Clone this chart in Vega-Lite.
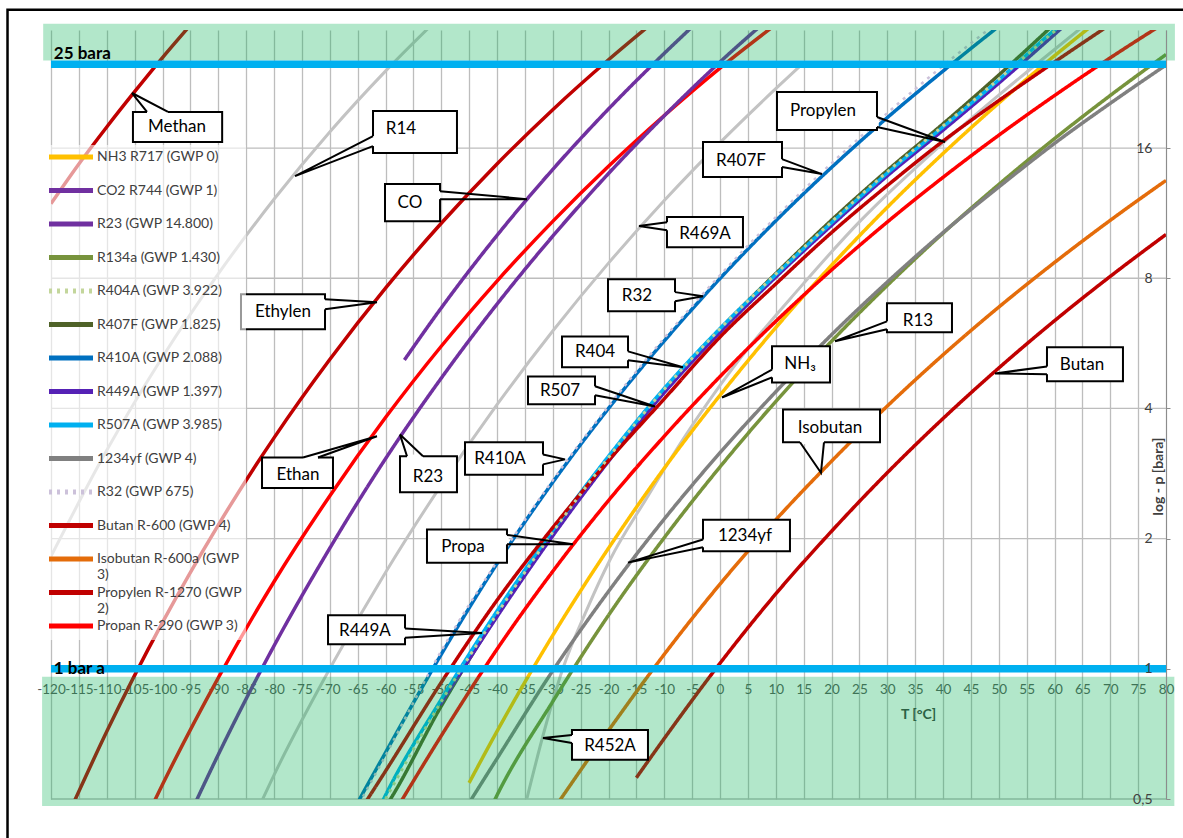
{
"$schema": "https://vega.github.io/schema/vega-lite/v6.json",
"width": 1115, "height": 769,
"autosize": {"type": "none"},
"padding": {"left": 51, "top": 30, "right": 17, "bottom": 39},
"background": "white",
"config": {"view": {"stroke": null}, "font": "Lato"},
"datasets": {
"hgrid": [{"T":-120,"T2":80,"p":0.5},{"T":-120,"T2":80,"p":1},{"T":-120,"T2":80,"p":2},{"T":-120,"T2":80,"p":4},{"T":-120,"T2":80,"p":8},{"T":-120,"T2":80,"p":16}],
"bars": [{"T":-120,"T2":80,"p":25},{"T":-120,"T2":80,"p":1}],
"bands": [{"T":-121.4,"T2":81.6,"p":25.5,"p2":31},{"T":-121.6,"T2":81.5,"p":0.482,"p2":0.958}],
"frame": [{"T":-127.8,"T2":95,"p":33.4,"p2":0.2}],
"barlabels": [{"T":-119.5,"p":26.4,"label":"25 bara"},{"T":-119.5,"p":1.0,"label":"1 bar a"}],
"curves": [
{"s":"Methan","T":-120,"p":11.9},{"s":"Methan","T":-115,"p":14.7},{"s":"Methan","T":-110,"p":17.9},{"s":"Methan","T":-105,"p":21.6},{"s":"Methan","T":-100,"p":25.9},{"s":"Methan","T":-95,"p":30.8},{"s":"Methan","T":-93,"p":33},
{"s":"Ethylen","T":-116,"p":0.488},{"s":"Ethylen","T":-110,"p":0.716},{"s":"Ethylen","T":-100,"p":1.28},{"s":"Ethylen","T":-90,"p":2.15},{"s":"Ethylen","T":-80,"p":3.42},{"s":"Ethylen","T":-70,"p":5.19},{"s":"Ethylen","T":-60,"p":7.59},{"s":"Ethylen","T":-50,"p":10.72},{"s":"Ethylen","T":-40,"p":14.7},{"s":"Ethylen","T":-30,"p":19.63},{"s":"Ethylen","T":-20,"p":25.6},{"s":"Ethylen","T":-10,"p":32.8},
{"s":"Ethan","T":-102,"p":0.478},{"s":"Ethan","T":-100,"p":0.54},{"s":"Ethan","T":-90,"p":0.953},{"s":"Ethan","T":-80,"p":1.59},{"s":"Ethan","T":-70,"p":2.51},{"s":"Ethan","T":-60,"p":3.81},{"s":"Ethan","T":-50,"p":5.57},{"s":"Ethan","T":-40,"p":7.88},{"s":"Ethan","T":-30,"p":10.83},{"s":"Ethan","T":-20,"p":14.52},{"s":"Ethan","T":-10,"p":19.03},{"s":"Ethan","T":0,"p":24.5},{"s":"Ethan","T":10,"p":30.9},
{"s":"R14","T":-120,"p":1.82},{"s":"R14","T":-110,"p":3.2},{"s":"R14","T":-100,"p":5.26},{"s":"R14","T":-90,"p":8.19},{"s":"R14","T":-80,"p":12.18},{"s":"R14","T":-70,"p":17.43},{"s":"R14","T":-60,"p":24.1},{"s":"R14","T":-50,"p":32.4},
{"s":"R469A","T":-84,"p":0.44},{"s":"R469A","T":-80,"p":0.568},{"s":"R469A","T":-70,"p":1.0},{"s":"R469A","T":-60,"p":1.67},{"s":"R469A","T":-50,"p":2.66},{"s":"R469A","T":-40,"p":4.08},{"s":"R469A","T":-30,"p":6.04},{"s":"R469A","T":-20,"p":8.67},{"s":"R469A","T":-10,"p":12.1},{"s":"R469A","T":0,"p":16.47},{"s":"R469A","T":10,"p":21.95},{"s":"R469A","T":15,"p":25.2},
{"s":"R452A","T":-35,"p":0.48},{"s":"R452A","T":-31.5,"p":0.72},{"s":"R452A","T":-28.2,"p":1.0},{"s":"R452A","T":-24,"p":1.36},{"s":"R452A","T":-19.7,"p":1.79},{"s":"R452A","T":-13,"p":2.5},{"s":"R452A","T":-6.6,"p":3.4},{"s":"R452A","T":3,"p":5.1},{"s":"R452A","T":14.3,"p":7.6},{"s":"R452A","T":25,"p":10.8},{"s":"R452A","T":39,"p":16.0},{"s":"R452A","T":50,"p":21.2},{"s":"R452A","T":57.4,"p":25.4},{"s":"R452A","T":65,"p":30.5},
{"s":"NH3 R717 (GWP 0)","T":-45,"p":0.545},{"s":"NH3 R717 (GWP 0)","T":-40,"p":0.717},{"s":"NH3 R717 (GWP 0)","T":-30,"p":1.195},{"s":"NH3 R717 (GWP 0)","T":-20,"p":1.9},{"s":"NH3 R717 (GWP 0)","T":-10,"p":2.91},{"s":"NH3 R717 (GWP 0)","T":0,"p":4.29},{"s":"NH3 R717 (GWP 0)","T":10,"p":6.15},{"s":"NH3 R717 (GWP 0)","T":20,"p":8.57},{"s":"NH3 R717 (GWP 0)","T":30,"p":11.67},{"s":"NH3 R717 (GWP 0)","T":40,"p":15.54},{"s":"NH3 R717 (GWP 0)","T":50,"p":20.33},{"s":"NH3 R717 (GWP 0)","T":60,"p":26.15},{"s":"NH3 R717 (GWP 0)","T":66,"p":30.2},
{"s":"CO2 R744 (GWP 1)","T":-56.6,"p":5.18},{"s":"CO2 R744 (GWP 1)","T":-50,"p":6.83},{"s":"CO2 R744 (GWP 1)","T":-40,"p":10.05},{"s":"CO2 R744 (GWP 1)","T":-30,"p":14.28},{"s":"CO2 R744 (GWP 1)","T":-20,"p":19.7},{"s":"CO2 R744 (GWP 1)","T":-10,"p":26.49},{"s":"CO2 R744 (GWP 1)","T":-5,"p":30.5},
{"s":"R23 (GWP 14.800)","T":-95,"p":0.463},{"s":"R23 (GWP 14.800)","T":-90,"p":0.633},{"s":"R23 (GWP 14.800)","T":-80,"p":1.13},{"s":"R23 (GWP 14.800)","T":-70,"p":1.9},{"s":"R23 (GWP 14.800)","T":-60,"p":3.06},{"s":"R23 (GWP 14.800)","T":-50,"p":4.7},{"s":"R23 (GWP 14.800)","T":-40,"p":6.97},{"s":"R23 (GWP 14.800)","T":-30,"p":10.01},{"s":"R23 (GWP 14.800)","T":-20,"p":13.97},{"s":"R23 (GWP 14.800)","T":-10,"p":19.0},{"s":"R23 (GWP 14.800)","T":0,"p":25.3},{"s":"R23 (GWP 14.800)","T":10,"p":32.9},
{"s":"R134a (GWP 1.430)","T":-41,"p":0.48},{"s":"R134a (GWP 1.430)","T":-40,"p":0.51},{"s":"R134a (GWP 1.430)","T":-30,"p":0.84},{"s":"R134a (GWP 1.430)","T":-20,"p":1.33},{"s":"R134a (GWP 1.430)","T":-10,"p":2.01},{"s":"R134a (GWP 1.430)","T":0,"p":2.93},{"s":"R134a (GWP 1.430)","T":10,"p":4.15},{"s":"R134a (GWP 1.430)","T":20,"p":5.72},{"s":"R134a (GWP 1.430)","T":30,"p":7.7},{"s":"R134a (GWP 1.430)","T":40,"p":10.17},{"s":"R134a (GWP 1.430)","T":50,"p":13.18},{"s":"R134a (GWP 1.430)","T":60,"p":16.82},{"s":"R134a (GWP 1.430)","T":70,"p":21.17},{"s":"R134a (GWP 1.430)","T":80,"p":26.33},
{"s":"R404A (GWP 3.922)","T":-60,"p":0.5},{"s":"R404A (GWP 3.922)","T":-50,"p":0.84},{"s":"R404A (GWP 3.922)","T":-40,"p":1.34},{"s":"R404A (GWP 3.922)","T":-30,"p":2.07},{"s":"R404A (GWP 3.922)","T":-20,"p":3.08},{"s":"R404A (GWP 3.922)","T":-10,"p":4.43},{"s":"R404A (GWP 3.922)","T":0,"p":6.11},{"s":"R404A (GWP 3.922)","T":10,"p":8.18},{"s":"R404A (GWP 3.922)","T":20,"p":10.8},{"s":"R404A (GWP 3.922)","T":30,"p":14.1},{"s":"R404A (GWP 3.922)","T":40,"p":18.0},{"s":"R404A (GWP 3.922)","T":50,"p":23.1},{"s":"R404A (GWP 3.922)","T":60,"p":29.8},{"s":"R404A (GWP 3.922)","T":62,"p":31.3},
{"s":"R407F (GWP 1.825)","T":-61,"p":0.46},{"s":"R407F (GWP 1.825)","T":-60,"p":0.48},{"s":"R407F (GWP 1.825)","T":-50,"p":0.82},{"s":"R407F (GWP 1.825)","T":-40,"p":1.33},{"s":"R407F (GWP 1.825)","T":-30,"p":2.06},{"s":"R407F (GWP 1.825)","T":-20,"p":3.07},{"s":"R407F (GWP 1.825)","T":-10,"p":4.42},{"s":"R407F (GWP 1.825)","T":0,"p":6.1},{"s":"R407F (GWP 1.825)","T":10,"p":8.2},{"s":"R407F (GWP 1.825)","T":20,"p":10.9},{"s":"R407F (GWP 1.825)","T":30,"p":14.2},{"s":"R407F (GWP 1.825)","T":40,"p":18.2},{"s":"R407F (GWP 1.825)","T":50,"p":23.6},{"s":"R407F (GWP 1.825)","T":60,"p":31.0},
{"s":"R410A (GWP 2.088)","T":-70,"p":0.37},{"s":"R410A (GWP 2.088)","T":-65,"p":0.49},{"s":"R410A (GWP 2.088)","T":-60,"p":0.64},{"s":"R410A (GWP 2.088)","T":-50,"p":1.08},{"s":"R410A (GWP 2.088)","T":-40,"p":1.75},{"s":"R410A (GWP 2.088)","T":-30,"p":2.7},{"s":"R410A (GWP 2.088)","T":-20,"p":4.0},{"s":"R410A (GWP 2.088)","T":-10,"p":5.73},{"s":"R410A (GWP 2.088)","T":0,"p":7.99},{"s":"R410A (GWP 2.088)","T":10,"p":10.86},{"s":"R410A (GWP 2.088)","T":20,"p":14.43},{"s":"R410A (GWP 2.088)","T":30,"p":18.81},{"s":"R410A (GWP 2.088)","T":40,"p":24.1},{"s":"R410A (GWP 2.088)","T":50,"p":30.6},
{"s":"R449A (GWP 1.397)","T":-50.2,"p":0.825},{"s":"R449A (GWP 1.397)","T":-40,"p":1.32},{"s":"R449A (GWP 1.397)","T":-30,"p":2.03},{"s":"R449A (GWP 1.397)","T":-20,"p":3.02},{"s":"R449A (GWP 1.397)","T":-10,"p":4.35},{"s":"R449A (GWP 1.397)","T":0,"p":6.0},{"s":"R449A (GWP 1.397)","T":10,"p":8.05},{"s":"R449A (GWP 1.397)","T":20,"p":10.6},{"s":"R449A (GWP 1.397)","T":30,"p":13.8},{"s":"R449A (GWP 1.397)","T":40,"p":17.6},{"s":"R449A (GWP 1.397)","T":50,"p":22.6},{"s":"R449A (GWP 1.397)","T":60,"p":29.3},{"s":"R449A (GWP 1.397)","T":62,"p":30.9},
{"s":"R507A (GWP 3.985)","T":-61,"p":0.48},{"s":"R507A (GWP 3.985)","T":-60,"p":0.51},{"s":"R507A (GWP 3.985)","T":-50,"p":0.85},{"s":"R507A (GWP 3.985)","T":-40,"p":1.36},{"s":"R507A (GWP 3.985)","T":-30,"p":2.09},{"s":"R507A (GWP 3.985)","T":-20,"p":3.1},{"s":"R507A (GWP 3.985)","T":-10,"p":4.45},{"s":"R507A (GWP 3.985)","T":0,"p":6.12},{"s":"R507A (GWP 3.985)","T":10,"p":8.15},{"s":"R507A (GWP 3.985)","T":20,"p":10.75},{"s":"R507A (GWP 3.985)","T":30,"p":14.0},{"s":"R507A (GWP 3.985)","T":40,"p":17.9},{"s":"R507A (GWP 3.985)","T":50,"p":23.0},{"s":"R507A (GWP 3.985)","T":60,"p":30.0},{"s":"R507A (GWP 3.985)","T":62,"p":31.5},
{"s":"1234yf (GWP 4)","T":-45,"p":0.49},{"s":"1234yf (GWP 4)","T":-40,"p":0.62},{"s":"1234yf (GWP 4)","T":-30,"p":0.99},{"s":"1234yf (GWP 4)","T":-20,"p":1.51},{"s":"1234yf (GWP 4)","T":-10,"p":2.22},{"s":"1234yf (GWP 4)","T":0,"p":3.16},{"s":"1234yf (GWP 4)","T":10,"p":4.37},{"s":"1234yf (GWP 4)","T":20,"p":5.92},{"s":"1234yf (GWP 4)","T":30,"p":7.84},{"s":"1234yf (GWP 4)","T":40,"p":10.2},{"s":"1234yf (GWP 4)","T":50,"p":13.0},{"s":"1234yf (GWP 4)","T":60,"p":16.4},{"s":"1234yf (GWP 4)","T":70,"p":20.3},{"s":"1234yf (GWP 4)","T":80,"p":24.9},
{"s":"R32 (GWP 675)","T":-70,"p":0.36},{"s":"R32 (GWP 675)","T":-65,"p":0.48},{"s":"R32 (GWP 675)","T":-60,"p":0.63},{"s":"R32 (GWP 675)","T":-50,"p":1.1},{"s":"R32 (GWP 675)","T":-40,"p":1.77},{"s":"R32 (GWP 675)","T":-30,"p":2.73},{"s":"R32 (GWP 675)","T":-20,"p":4.05},{"s":"R32 (GWP 675)","T":-10,"p":5.82},{"s":"R32 (GWP 675)","T":0,"p":8.13},{"s":"R32 (GWP 675)","T":10,"p":11.07},{"s":"R32 (GWP 675)","T":20,"p":14.75},{"s":"R32 (GWP 675)","T":30,"p":19.27},{"s":"R32 (GWP 675)","T":40,"p":24.8},{"s":"R32 (GWP 675)","T":50,"p":31.4},
{"s":"Butan R-600 (GWP 4)","T":-15,"p":0.56},{"s":"Butan R-600 (GWP 4)","T":-10,"p":0.69},{"s":"Butan R-600 (GWP 4)","T":0,"p":1.03},{"s":"Butan R-600 (GWP 4)","T":10,"p":1.49},{"s":"Butan R-600 (GWP 4)","T":20,"p":2.08},{"s":"Butan R-600 (GWP 4)","T":30,"p":2.84},{"s":"Butan R-600 (GWP 4)","T":40,"p":3.79},{"s":"Butan R-600 (GWP 4)","T":50,"p":4.96},{"s":"Butan R-600 (GWP 4)","T":60,"p":6.38},{"s":"Butan R-600 (GWP 4)","T":70,"p":8.08},{"s":"Butan R-600 (GWP 4)","T":80,"p":10.1},
{"s":"Isobutan R-600a (GWP 3)","T":-30,"p":0.47},{"s":"Isobutan R-600a (GWP 3)","T":-20,"p":0.72},{"s":"Isobutan R-600a (GWP 3)","T":-10,"p":1.08},{"s":"Isobutan R-600a (GWP 3)","T":0,"p":1.57},{"s":"Isobutan R-600a (GWP 3)","T":10,"p":2.21},{"s":"Isobutan R-600a (GWP 3)","T":20,"p":3.02},{"s":"Isobutan R-600a (GWP 3)","T":30,"p":4.05},{"s":"Isobutan R-600a (GWP 3)","T":40,"p":5.32},{"s":"Isobutan R-600a (GWP 3)","T":50,"p":6.86},{"s":"Isobutan R-600a (GWP 3)","T":60,"p":8.7},{"s":"Isobutan R-600a (GWP 3)","T":70,"p":10.89},{"s":"Isobutan R-600a (GWP 3)","T":80,"p":13.47},
{"s":"Propylen R-1270 (GWP 2)","T":-65,"p":0.46},{"s":"Propylen R-1270 (GWP 2)","T":-60,"p":0.58},{"s":"Propylen R-1270 (GWP 2)","T":-50,"p":0.93},{"s":"Propylen R-1270 (GWP 2)","T":-40,"p":1.44},{"s":"Propylen R-1270 (GWP 2)","T":-30,"p":2.12},{"s":"Propylen R-1270 (GWP 2)","T":-20,"p":3.03},{"s":"Propylen R-1270 (GWP 2)","T":-10,"p":4.21},{"s":"Propylen R-1270 (GWP 2)","T":0,"p":5.85},{"s":"Propylen R-1270 (GWP 2)","T":10,"p":7.76},{"s":"Propylen R-1270 (GWP 2)","T":20,"p":10.2},{"s":"Propylen R-1270 (GWP 2)","T":30,"p":13.1},{"s":"Propylen R-1270 (GWP 2)","T":40,"p":16.6},{"s":"Propylen R-1270 (GWP 2)","T":50,"p":20.6},{"s":"Propylen R-1270 (GWP 2)","T":60,"p":25.3},{"s":"Propylen R-1270 (GWP 2)","T":70,"p":30.9},
{"s":"Propan R-290 (GWP 3)","T":-60,"p":0.43},{"s":"Propan R-290 (GWP 3)","T":-50,"p":0.7},{"s":"Propan R-290 (GWP 3)","T":-40,"p":1.11},{"s":"Propan R-290 (GWP 3)","T":-30,"p":1.68},{"s":"Propan R-290 (GWP 3)","T":-20,"p":2.45},{"s":"Propan R-290 (GWP 3)","T":-10,"p":3.45},{"s":"Propan R-290 (GWP 3)","T":0,"p":4.74},{"s":"Propan R-290 (GWP 3)","T":10,"p":6.36},{"s":"Propan R-290 (GWP 3)","T":20,"p":8.36},{"s":"Propan R-290 (GWP 3)","T":30,"p":10.79},{"s":"Propan R-290 (GWP 3)","T":40,"p":13.69},{"s":"Propan R-290 (GWP 3)","T":50,"p":17.13},{"s":"Propan R-290 (GWP 3)","T":60,"p":21.16},{"s":"Propan R-290 (GWP 3)","T":70,"p":25.87},{"s":"Propan R-290 (GWP 3)","T":80,"p":31.3}
],
"boxes": [
{"c":"Methan","T":-105.3,"T2":-89.3,"p":19.39,"p2":16.52},
{"c":"R14","T":-62.24,"T2":-47.18,"p":19.49,"p2":15.58},
{"c":"CO","T":-60.09,"T2":-50.22,"p":13.21,"p2":10.84},
{"c":"Ethylen","T":-85.92,"T2":-70.85,"p":7.35,"p2":6.1},
{"c":"Ethan","T":-82.15,"T2":-69.42,"p":3.08,"p2":2.62},
{"c":"R23","T":-57.4,"T2":-47.18,"p":3.1,"p2":2.56},
{"c":"R469A","T":-9.51,"T2":4.12,"p":11.08,"p2":9.44},
{"c":"R407F","T":-3.05,"T2":11.12,"p":16.52,"p2":13.71},
{"c":"R32","T":-20.09,"T2":-8.07,"p":7.96,"p2":6.71},
{"c":"R404","T":-28.34,"T2":-16.5,"p":5.87,"p2":4.98},
{"c":"R507","T":-34.44,"T2":-22.42,"p":4.74,"p2":4.09},
{"c":"R410A","T":-45.74,"T2":-31.75,"p":3.34,"p2":2.81},
{"c":"Propa","T":-52.56,"T2":-38.21,"p":2.1,"p2":1.76},
{"c":"Propylen","T":10.22,"T2":28.16,"p":21.57,"p2":17.61},
{"c":"NH3","T":9.33,"T2":19.73,"p":5.57,"p2":4.59},
{"c":"R13","T":29.95,"T2":41.61,"p":7.0,"p2":6.0},
{"c":"1234yf","T":-3.05,"T2":12.55,"p":2.21,"p2":1.87},
{"c":"Isobutan","T":11.3,"T2":28.7,"p":3.98,"p2":3.34},
{"c":"Butan","T":58.65,"T2":72.28,"p":5.54,"p2":4.62},
{"c":"R449A","T":-70.31,"T2":-56.5,"p":1.33,"p2":1.14},
{"c":"R452A","T":-26.55,"T2":-12.92,"p":0.722,"p2":0.616}
],
"ctext": [
{"label":"Methan","T":-97.4,"p":17.9},
{"label":"R14","T":-57.22,"p":17.71},
{"label":"CO","T":-55.61,"p":11.93},
{"label":"Ethylen","T":-78.39,"p":6.67},
{"label":"Ethan","T":-75.7,"p":2.8},
{"label":"R23","T":-52.38,"p":2.78},
{"label":"R469A","T":-2.69,"p":10.12},
{"label":"R407F","T":3.77,"p":14.93},
{"label":"R32","T":-14.89,"p":7.27},
{"label":"R404","T":-22.42,"p":5.39},
{"label":"R507","T":-28.7,"p":4.38},
{"label":"R410A","T":-39.46,"p":3.05},
{"label":"Propa","T":-46.1,"p":1.91},
{"label":"Propylen","T":18.47,"p":19.49},
{"label":"NH₃","T":14.35,"p":5.06},
{"label":"R13","T":35.51,"p":6.36},
{"label":"1234yf","T":4.48,"p":2.03},
{"label":"Isobutan","T":19.73,"p":3.61},
{"label":"Butan","T":64.93,"p":5.03},
{"label":"R449A","T":-63.68,"p":1.22},
{"label":"R452A","T":-19.73,"p":0.663}
],
"wedge": [
{"c":"Methan","o":0,"T":-102.78,"p":19.39},{"c":"Methan","o":1,"T":-105.47,"p":21.45},{"c":"Methan","o":2,"T":-99.01,"p":19.39},
{"c":"R14","o":0,"T":-62.24,"p":17.06},{"c":"R14","o":1,"T":-76.23,"p":13.78},{"c":"R14","o":2,"T":-62.24,"p":16.17},
{"c":"CO","o":0,"T":-50.22,"p":12.72},{"c":"CO","o":1,"T":-34.62,"p":12.19},{"c":"CO","o":2,"T":-50.22,"p":12.19},
{"c":"Ethylen","o":0,"T":-70.85,"p":7.15},{"c":"Ethylen","o":1,"T":-61.53,"p":7.04},{"c":"Ethylen","o":2,"T":-70.85,"p":6.78},
{"c":"Ethan","o":0,"T":-74.8,"p":3.08},{"c":"Ethan","o":1,"T":-61.53,"p":3.45},{"c":"Ethan","o":2,"T":-72.11,"p":3.08},
{"c":"R23","o":0,"T":-56.14,"p":3.1},{"c":"R23","o":1,"T":-57.4,"p":3.48},{"c":"R23","o":2,"T":-53.27,"p":3.1},
{"c":"R469A","o":0,"T":-9.51,"p":10.78},{"c":"R469A","o":1,"T":-14.53,"p":10.56},{"c":"R469A","o":2,"T":-9.51,"p":10.33},
{"c":"R407F","o":0,"T":11.12,"p":15.09},{"c":"R407F","o":1,"T":18.29,"p":13.93},{"c":"R407F","o":2,"T":11.12,"p":14.46},
{"c":"R32","o":0,"T":-8.07,"p":7.43},{"c":"R32","o":1,"T":-3.05,"p":7.27},{"c":"R32","o":2,"T":-8.07,"p":7.08},
{"c":"R404","o":0,"T":-16.5,"p":5.42},{"c":"R404","o":1,"T":-6.64,"p":4.98},{"c":"R404","o":2,"T":-16.5,"p":5.17},
{"c":"R507","o":0,"T":-22.42,"p":4.5},{"c":"R507","o":1,"T":-11.66,"p":4.04},{"c":"R507","o":2,"T":-22.42,"p":4.29},
{"c":"R410A","o":0,"T":-31.75,"p":3.13},{"c":"R410A","o":1,"T":-27.8,"p":3.05},{"c":"R410A","o":2,"T":-31.75,"p":2.97},
{"c":"Propa","o":0,"T":-38.21,"p":2.04},{"c":"Propa","o":1,"T":-26.37,"p":1.94},{"c":"Propa","o":2,"T":-38.21,"p":1.94},
{"c":"Propylen","o":0,"T":28.16,"p":18.88},{"c":"Propylen","o":1,"T":40.36,"p":16.52},{"c":"Propylen","o":2,"T":28.16,"p":17.9},
{"c":"NH3","o":0,"T":9.33,"p":4.92},{"c":"NH3","o":1,"T":0.36,"p":4.24},{"c":"NH3","o":2,"T":9.33,"p":4.72},
{"c":"R13","o":0,"T":29.95,"p":6.36},{"c":"R13","o":1,"T":20.63,"p":5.72},{"c":"R13","o":2,"T":29.95,"p":6.1},
{"c":"1234yf","o":0,"T":-3.05,"p":1.99},{"c":"1234yf","o":1,"T":-16.5,"p":1.76},{"c":"1234yf","o":2,"T":-3.05,"p":1.91},
{"c":"Isobutan","o":0,"T":14.35,"p":3.34},{"c":"Isobutan","o":1,"T":18.11,"p":2.84},{"c":"Isobutan","o":2,"T":18.65,"p":3.34},
{"c":"Butan","o":0,"T":58.65,"p":5.0},{"c":"Butan","o":1,"T":49.33,"p":4.82},{"c":"Butan","o":2,"T":58.65,"p":4.8},
{"c":"R449A","o":0,"T":-56.5,"p":1.24},{"c":"R449A","o":1,"T":-42.69,"p":1.21},{"c":"R449A","o":2,"T":-56.5,"p":1.18},
{"c":"R452A","o":0,"T":-26.55,"p":0.703},{"c":"R452A","o":1,"T":-31.75,"p":0.692},{"c":"R452A","o":2,"T":-26.55,"p":0.674}
]
},
"encoding": {
"x": {"field": "T", "type": "quantitative",
 "scale": {"type": "linear", "domain": [-120, 80], "nice": false, "zero": false},
 "axis": {"values": [-120,-115,-110,-105,-100,-95,-90,-85,-80,-75,-70,-65,-60,-55,-50,-45,-40,-35,-30,-25,-20,-15,-10,-5,0,5,10,15,20,25,30,35,40,45,50,55,60,65,70,75,80],
  "grid": true, "gridColor": "#BDBDBD", "gridWidth": 1.3, "ticks": false, "tickSize": 0, "domain": false, "offset": -130,
  "labelFont": "Lato", "labelFontSize": 13.5, "labelColor": "#595959", "labelPadding": 20, "labelBaseline": "middle", "labelOverlap": false, "labelFlush": false,
  "labelExpr": "(datum.value < 0 ? '-' : '') + abs(datum.value)",
  "title": "T [°C]", "titleFont": "Lato", "titleFontSize": 14, "titleFontWeight": "bold", "titleColor": "#404040", "titleX": 867, "titleY": 45, "titleAlign": "center", "titleBaseline": "middle", "zindex": 0}},
"y": {"field": "p", "type": "quantitative",
 "scale": {"type": "log", "base": 2, "domain": [0.5, 30], "nice": false},
 "axis": {"values": [0.5,1,2,4,8,16], "orient": "right", "grid": false, "domain": true, "domainColor": "#8C8C8C", "domainWidth": 1, "ticks": true, "tickSize": 4, "tickColor": "#8C8C8C",
  "labelAlign": "right", "labelBaseline": "middle", "labelPadding": -18, "labelFont": "Lato", "labelFontSize": 14, "labelColor": "#404040", "labelOverlap": false, "labelFlush": false,
  "labelExpr": "replace(format(datum.value, '~g'), '.', ',')",
  "title": "log - p [bara]", "titleAngle": 270, "titleX": -8, "titleY": 446, "titleAlign": "center", "titleBaseline": "middle", "titleFont": "Lato", "titleFontSize": 14, "titleFontWeight": "bold", "titleColor": "#404040", "zindex": 1}}
},
"layer": [
{"data": {"name": "hgrid"}, "mark": {"type": "rule", "color": "#BDBDBD", "strokeWidth": 1.3}, "encoding": {"x2": {"field": "T2"}}},
{"data": {"name": "curves"}, "transform": [{"filter": {"field": "s", "oneOf": ["R14", "R469A", "R452A"]}}],
 "mark": {"type": "line", "color": "#C3C3C3", "strokeWidth": 3, "clip": true, "interpolate": "monotone"}, "encoding": {"detail": {"field": "s"}}},
{"data": {"name": "curves"}, "transform": [{"filter": {"field": "s", "oneOf": ["Methan", "Ethylen"]}}],
 "mark": {"type": "line", "color": "#C00000", "strokeWidth": 3.5, "clip": true, "interpolate": "monotone"}, "encoding": {"detail": {"field": "s"}}},
{"data": {"name": "curves"}, "transform": [{"filter": {"field": "s", "equal": "Ethan"}}],
 "mark": {"type": "line", "color": "#FF0000", "strokeWidth": 3.5, "clip": true, "interpolate": "monotone"}, "encoding": {}},
{"data": {"name": "curves"}, "transform": [{"filter": {"field": "s", "oneOf": ["NH3 R717 (GWP 0)","CO2 R744 (GWP 1)","R23 (GWP 14.800)","R134a (GWP 1.430)","R407F (GWP 1.825)","R410A (GWP 2.088)","R449A (GWP 1.397)","R507A (GWP 3.985)","1234yf (GWP 4)","Butan R-600 (GWP 4)","Isobutan R-600a (GWP 3)","Propylen R-1270 (GWP 2)","Propan R-290 (GWP 3)"]}}],
 "mark": {"type": "line", "strokeWidth": 3.5, "clip": true, "interpolate": "monotone"},
 "encoding": {
  "color": {"field": "s", "type": "nominal",
   "scale": {"domain": ["NH3 R717 (GWP 0)","CO2 R744 (GWP 1)","R23 (GWP 14.800)","R134a (GWP 1.430)","R404A (GWP 3.922)","R407F (GWP 1.825)","R410A (GWP 2.088)","R449A (GWP 1.397)","R507A (GWP 3.985)","1234yf (GWP 4)","R32 (GWP 675)","Butan R-600 (GWP 4)","Isobutan R-600a (GWP 3)","Propylen R-1270 (GWP 2)","Propan R-290 (GWP 3)"],
    "range": ["#FFC000","#7030A0","#7030A0","#77933C","#C3D69B","#4F6228","#0070C0","#5521B5","#00B0F0","#808080","#CCC1DA","#C00000","#E46C0A","#C00000","#FF0000"]},
   "legend": {"title": null, "orient": "none", "legendX": -6, "legendY": 115, "direction": "vertical", "symbolType": "M-4,0H4", "symbolSize": 121, "symbolStrokeWidth": 5, "symbolOffset": 14, "labelFont": "Lato", "labelFontSize": 14, "labelColor": "#404040", "labelLimit": 0, "labelOffset": 18, "rowPadding": 0.5, "gridAlign": "all", "fillColor": "rgba(255,255,255,0.6)", "padding": 4,
    "labelExpr": "datum.label == 'Isobutan R-600a (GWP 3)' ? ['Isobutan R-600a (GWP', '3)'] : datum.label == 'Propylen R-1270 (GWP 2)' ? ['Propylen R-1270 (GWP', '2)'] : datum.label"}},
  "strokeDash": {"field": "s", "type": "nominal",
   "scale": {"domain": ["NH3 R717 (GWP 0)","CO2 R744 (GWP 1)","R23 (GWP 14.800)","R134a (GWP 1.430)","R404A (GWP 3.922)","R407F (GWP 1.825)","R410A (GWP 2.088)","R449A (GWP 1.397)","R507A (GWP 3.985)","1234yf (GWP 4)","R32 (GWP 675)","Butan R-600 (GWP 4)","Isobutan R-600a (GWP 3)","Propylen R-1270 (GWP 2)","Propan R-290 (GWP 3)"],
    "range": [[1,0],[1,0],[1,0],[1,0],[3,5],[1,0],[1,0],[1,0],[1,0],[1,0],[3,5],[1,0],[1,0],[1,0],[1,0]]},
   "legend": {"title": null, "orient": "none", "legendX": -6, "legendY": 115, "direction": "vertical", "symbolType": "M-4,0H4", "symbolSize": 121, "symbolStrokeWidth": 5, "symbolOffset": 14, "labelFont": "Lato", "labelFontSize": 14, "labelColor": "#404040", "labelLimit": 0, "labelOffset": 18, "rowPadding": 0.5, "gridAlign": "all", "fillColor": "rgba(255,255,255,0.6)", "padding": 4,
    "labelExpr": "datum.label == 'Isobutan R-600a (GWP 3)' ? ['Isobutan R-600a (GWP', '3)'] : datum.label == 'Propylen R-1270 (GWP 2)' ? ['Propylen R-1270 (GWP', '2)'] : datum.label"}}
 }},
{"data": {"name": "curves"}, "transform": [{"filter": {"field": "s", "equal": "R404A (GWP 3.922)"}}],
 "mark": {"type": "line", "strokeWidth": 3, "clip": true, "interpolate": "monotone"},
 "encoding": {"color": {"field": "s", "type": "nominal"}, "strokeDash": {"field": "s", "type": "nominal"}}},
{"data": {"name": "curves"}, "transform": [{"filter": {"field": "s", "equal": "R32 (GWP 675)"}}],
 "mark": {"type": "line", "strokeWidth": 2.5, "clip": true, "interpolate": "monotone"},
 "encoding": {"color": {"field": "s", "type": "nominal"}, "strokeDash": {"field": "s", "type": "nominal"}}},
{"data": {"name": "bands"}, "mark": {"type": "rect", "color": "#00B050", "opacity": 0.3, "clip": false}, "encoding": {"x2": {"field": "T2"}, "y2": {"field": "p2"}}},
{"data": {"name": "bars"}, "mark": {"type": "rule", "color": "#00B0F0", "strokeWidth": 7.5}, "encoding": {"x2": {"field": "T2"}}},
{"data": {"name": "barlabels"}, "mark": {"type": "text", "align": "left", "baseline": "middle", "font": "Lato", "fontSize": 17, "fontWeight": "bold", "color": "#000000"}, "encoding": {"text": {"field": "label"}}},
{"data": {"name": "frame"}, "mark": {"type": "rect", "filled": false, "stroke": "#000000", "strokeWidth": 2.5, "clip": false}, "encoding": {"x2": {"field": "T2"}, "y2": {"field": "p2"}}},
{"data": {"name": "boxes"}, "mark": {"type": "rect", "fill": "#FFFFFF", "stroke": "#000000", "strokeWidth": 2}, "encoding": {"x2": {"field": "T2"}, "y2": {"field": "p2"}}},
{"data": {"name": "wedge"}, "transform": [{"filter": "datum.o != 1"}], "mark": {"type": "line", "color": "#FFFFFF", "strokeWidth": 3.5}, "encoding": {"detail": {"field": "c"}, "order": {"field": "o"}}},
{"data": {"name": "wedge"}, "mark": {"type": "line", "color": "#000000", "strokeWidth": 2, "strokeJoin": "miter"}, "encoding": {"detail": {"field": "c"}, "order": {"field": "o"}}},
{"data": {"name": "ctext"}, "mark": {"type": "text", "align": "center", "baseline": "middle", "font": "Lato", "fontSize": 17, "color": "#000000"}, "encoding": {"text": {"field": "label"}}}
]
}
